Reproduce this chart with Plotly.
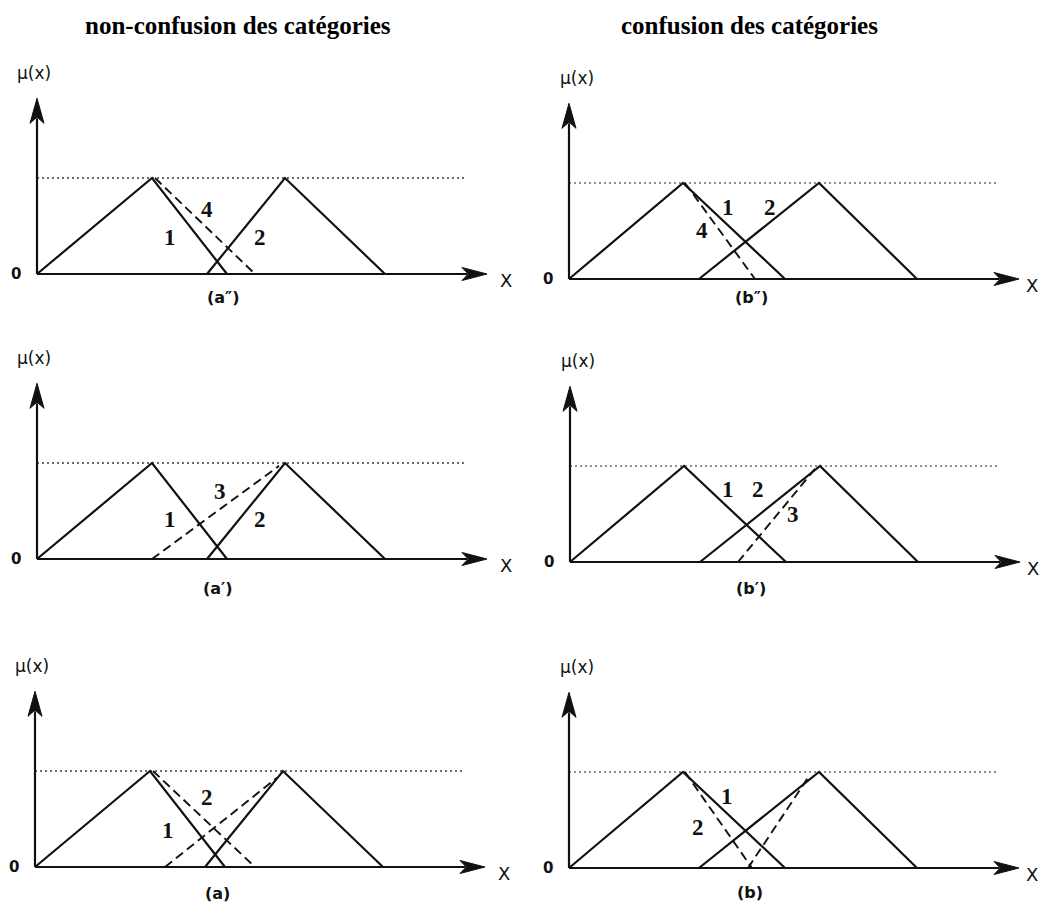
import plotly.graph_objects as go

# ---------------------------------------------------------------
# Membership functions (x in axis units, mu in [0, 1])
# ---------------------------------------------------------------
MU_TRI = [0, 1, 0]

# left column: categories kept apart
LEFT_TRI1_X = [0.0, 11.5, 19.0]
LEFT_TRI2_X = [17.0, 24.8, 34.8]

# right column: overlapping categories
RIGHT_TRI1_X = [0.0, 11.4, 21.6]
RIGHT_TRI2_X = [13.0, 25.0, 34.8]

# dashed (shifted) boundaries, one pair of lists per segment
A2_DASH4_X, A2_DASH4_MU = [11.8, 21.8], [1.0, 0.0]
A1_DASH3_X, A1_DASH3_MU = [11.5, 24.2], [0.0, 0.97]
A0_DASH1_X, A0_DASH1_MU = [11.8, 22.0], [1.0, 0.0]
A0_DASH2_X, A0_DASH2_MU = [13.0, 24.2], [0.0, 0.93]
B2_DASH4_X, B2_DASH4_MU = [11.6, 18.6], [1.0, 0.0]
B1_DASH3_X, B1_DASH3_MU = [16.8, 24.5], [0.0, 0.97]
B0_DASH1_X, B0_DASH1_MU = [11.6, 18.3], [1.0, 0.0]
B0_DASH2_X, B0_DASH2_MU = [17.9, 23.9], [0.0, 0.94]

PEAK_LEVEL = 1.0
DOTTED_END = 43.0
X_AXIS_END = 45.0
Y_AXIS_END = 1.83

COLUMN_TITLES = ["non-confusion des catégories", "confusion des catégories"]

# ---------------------------------------------------------------
# Page layout (pixels)
# ---------------------------------------------------------------
W, H = 1043, 903
XS, YS = 10.0, 96.0          # pixels per x unit / per mu unit
COLS = [(0, 521), (521, 1043)]
ROWS = [(0, 312), (312, 612), (612, 903)]

SANS = "DejaVu Sans"
SERIF = "Liberation Serif"

panels = [
    dict(row=0, col=0, ox=37, oy=274, caption="(a″)", cap_dx=186, cap_dy=23,
         tri=(LEFT_TRI1_X, LEFT_TRI2_X),
         dashes=[(A2_DASH4_X, A2_DASH4_MU)],
         labels=[("4", 17.0, 0.67), ("1", 13.3, 0.38), ("2", 22.3, 0.38)]),
    dict(row=0, col=1, ox=569, oy=279, caption="(b″)", cap_dx=182, cap_dy=18,
         tri=(RIGHT_TRI1_X, RIGHT_TRI2_X),
         dashes=[(B2_DASH4_X, B2_DASH4_MU)],
         labels=[("1", 15.9, 0.74), ("2", 20.1, 0.74), ("4", 13.3, 0.51)]),
    dict(row=1, col=0, ox=37, oy=559, caption="(a′)", cap_dx=181, cap_dy=29,
         tri=(LEFT_TRI1_X, LEFT_TRI2_X),
         dashes=[(A1_DASH3_X, A1_DASH3_MU)],
         labels=[("3", 18.3, 0.70), ("1", 13.3, 0.41), ("2", 22.3, 0.41)]),
    dict(row=1, col=1, ox=570, oy=562, caption="(b′)", cap_dx=181, cap_dy=26,
         tri=(RIGHT_TRI1_X, RIGHT_TRI2_X),
         dashes=[(B1_DASH3_X, B1_DASH3_MU)],
         labels=[("1", 15.8, 0.76), ("2", 18.8, 0.76), ("3", 22.3, 0.49)]),
    dict(row=2, col=0, ox=35, oy=867, caption="(a)", cap_dx=182, cap_dy=26,
         tri=(LEFT_TRI1_X, LEFT_TRI2_X),
         dashes=[(A0_DASH1_X, A0_DASH1_MU), (A0_DASH2_X, A0_DASH2_MU)],
         labels=[("2", 17.2, 0.72), ("1", 13.3, 0.38)]),
    dict(row=2, col=1, ox=569, oy=868, caption="(b)", cap_dx=181, cap_dy=24,
         tri=(RIGHT_TRI1_X, RIGHT_TRI2_X),
         dashes=[(B0_DASH1_X, B0_DASH1_MU), (B0_DASH2_X, B0_DASH2_MU)],
         labels=[("1", 15.8, 0.74), ("2", 12.9, 0.42)]),
]

fig = go.Figure()
annotations = []
layout_axes = {}

INK = "#111111"


def text_note(x, y, xref, yref, text, font):
    return dict(x=x, y=y, xref=xref, yref=yref, text=text, showarrow=False,
                xanchor="center", yanchor="middle", font=font)


for i, p in enumerate(panels, start=1):
    xa = "x" if i == 1 else f"x{i}"
    ya = "y" if i == 1 else f"y{i}"
    x0, x1 = COLS[p["col"]]
    y0, y1 = ROWS[p["row"]]
    ox, oy = p["ox"], p["oy"]

    xkey = "xaxis" if i == 1 else f"xaxis{i}"
    ykey = "yaxis" if i == 1 else f"yaxis{i}"
    hidden = dict(visible=False, showgrid=False, zeroline=False, fixedrange=True)
    layout_axes[xkey] = dict(domain=[x0 / W, x1 / W],
                             range=[(x0 - ox) / XS, (x1 - ox) / XS],
                             anchor=ya, **hidden)
    layout_axes[ykey] = dict(domain=[1 - y1 / H, 1 - y0 / H],
                             range=[(oy - y1) / YS, (oy - y0) / YS],
                             anchor=xa, **hidden)

    def line(xs, ys, **kw):
        fig.add_trace(go.Scatter(x=xs, y=ys, xaxis=xa, yaxis=ya, mode="lines",
                                 showlegend=False, hoverinfo="skip", **kw))

    # dotted level line at mu = 1
    dot_col = "#3a3a3a" if p["col"] == 0 else "#6a6a6a"
    line([0, DOTTED_END], [PEAK_LEVEL, PEAK_LEVEL],
         line=dict(color=dot_col, width=1.3, dash="2px,3px"))

    # axes with arrowheads
    ah_len_x, ah_half_x = 25 / XS, 6.5 / YS
    ah_len_y, ah_half_y = 25 / YS, 7 / XS
    line([0, X_AXIS_END - ah_len_x * 0.8], [0, 0], line=dict(color=INK, width=2.2))
    line([0, 0], [0, Y_AXIS_END - ah_len_y * 0.8], line=dict(color=INK, width=2.2))
    line([X_AXIS_END, X_AXIS_END - ah_len_x, X_AXIS_END - ah_len_x * 0.75,
          X_AXIS_END - ah_len_x, X_AXIS_END],
         [0, ah_half_x, 0, -ah_half_x, 0],
         fill="toself", fillcolor=INK, line=dict(color=INK, width=1))
    line([0, ah_half_y, 0, -ah_half_y, 0],
         [Y_AXIS_END, Y_AXIS_END - ah_len_y, Y_AXIS_END - ah_len_y * 0.75,
          Y_AXIS_END - ah_len_y, Y_AXIS_END],
         fill="toself", fillcolor=INK, line=dict(color=INK, width=1))

    # triangular membership functions
    for tx in p["tri"]:
        line(tx, MU_TRI, line=dict(color=INK, width=2.2))

    # shifted (dashed) boundaries
    for dx, dy in p["dashes"]:
        line(dx, dy, line=dict(color=INK, width=1.9, dash="9px,5px"))

    # curve numbers
    for txt, lx, ly in p["labels"]:
        annotations.append(text_note(lx, ly, xa, ya, txt,
                                     dict(family=SERIF, size=23, color=INK,
                                          weight="bold")))

    # axis texts
    mu_dx = -3 if p["col"] == 0 else 8
    annotations.append(text_note(mu_dx / XS, 201 / YS, xa, ya, "μ(x)",
                                 dict(family=SANS, size=17, color=INK)))
    annotations.append(text_note(-21 / XS, 0, xa, ya, "0",
                                 dict(family=SANS, size=15, color=INK,
                                      weight="bold")))
    x_dx = 469 if p["col"] == 0 else 463
    annotations.append(text_note(x_dx / XS, -6 / YS, xa, ya, "X",
                                 dict(family=SANS, size=18, color=INK)))
    annotations.append(text_note(p["cap_dx"] / XS, -p["cap_dy"] / YS, xa, ya,
                                 p["caption"],
                                 dict(family=SANS, size=16, color=INK,
                                      weight="bold")))

# column headings
for title, cx in zip(COLUMN_TITLES, (238, 749)):
    annotations.append(text_note(cx / W, 1 - 25 / H, "paper", "paper", title,
                                 dict(family=SERIF, size=25, color="#000000",
                                      weight="bold")))

fig.update_layout(
    width=W, height=H, autosize=False,
    margin=dict(l=0, r=0, t=0, b=0, pad=0),
    paper_bgcolor="white", plot_bgcolor="white",
    showlegend=False,
    annotations=annotations,
    **layout_axes,
)

fig.write_html("out.html", config={"displayModeBar": False})
